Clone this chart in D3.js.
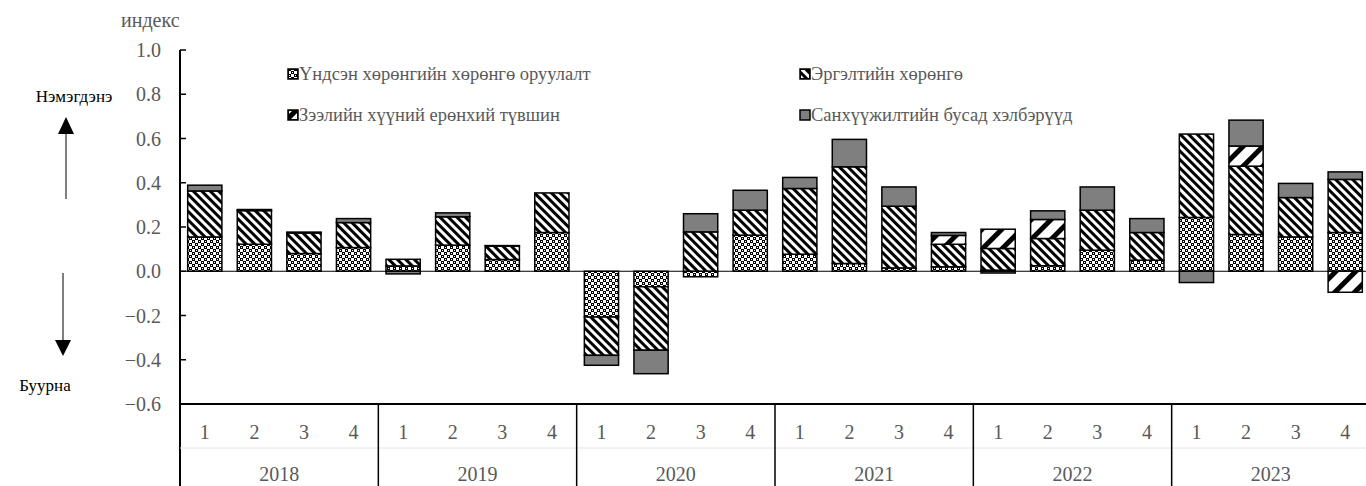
<!DOCTYPE html>
<html>
<head>
  <meta charset="utf-8">
  <title>stacked index chart</title>
  <script src="https://d3js.org/d3.v7.min.js"></script>
  <style>
    body { margin: 0; background: #fff; }
  </style>
</head>
<body>
  <div id="chart"></div>
  <script type="text/javascript">
    // data
    var years = ["2018", "2019", "2020", "2021", "2022", "2023"]
    var quarters = ["1", "2", "3", "4"]
    var seriesNames = ["Үндсэн хөрөнгийн хөрөнгө оруулалт", "Эргэлтийн хөрөнгө", "Зээлийн хүүний ерөнхий түвшин", "Санхүүжилтийн бусад хэлбэрүүд"]
    var fixedAssets = [0.155, 0.122, 0.08, 0.107, 0.024, 0.118, 0.053, 0.175, -0.207, -0.07, -0.025, 0.163, 0.077, 0.035, 0.015, 0.02, 0.005, 0.025, 0.095, 0.05, 0.243, 0.166, 0.155, 0.175]
    var workingCapital = [0.208, 0.152, 0.093, 0.113, 0.03, 0.128, 0.06, 0.179, -0.173, -0.287, 0.178, 0.113, 0.297, 0.437, 0.279, 0.102, 0.098, 0.123, 0.181, 0.125, 0.377, 0.309, 0.178, 0.24]
    var loanRate = [0, 0, 0, 0, 0, 0, 0, 0, 0, 0, 0, 0, 0, 0, 0, 0.04, 0.087, 0.086, 0, 0, 0, 0.091, 0, -0.095]
    var otherFinance = [0.026, 0.005, 0.004, 0.018, -0.012, 0.018, 0.003, 0, -0.045, -0.106, 0.082, 0.09, 0.05, 0.124, 0.087, 0.013, -0.008, 0.039, 0.105, 0.063, -0.051, 0.117, 0.064, 0.034]
    var yTicks = [-0.6, -0.4, -0.2, 0, 0.2, 0.4, 0.6, 0.8, 1.0]

    var W = 1366, H = 486
    var plotLeft = 180, plotRight = 1370, plotTop = 50, plotBottom = 404
    var serif = "'Liberation Serif', 'Times New Roman', 'DejaVu Serif', serif"
    var keys = ["fixed", "working", "loan", "other"]
    var fills = ["url(#pDots)", "url(#pDiag)", "url(#pLoan)", "#7f7f7f"]

    var rows = []
    years.forEach((yr, i) => {
      quarters.forEach((q, j) => {
        var k = i * 4 + j
        rows.push({ id: yr + "-" + q, year: yr, q: q, fixed: fixedAssets[k], working: workingCapital[k], loan: loanRate[k], other: otherFinance[k] })
      })
    })

    var svg = d3.select("#chart").append("svg").attr("width", W).attr("height", H)
      .attr("font-family", serif)
    var defs = svg.append("defs")

    // dotted grid
    var p1 = defs.append("pattern").attr("id", "pDots").attr("patternUnits", "userSpaceOnUse").attr("width", 6).attr("height", 6)
    p1.append("rect").attr("width", 6).attr("height", 6).attr("fill", "#fff")
    p1.append("rect").attr("x", 0).attr("y", 0).attr("width", 3).attr("height", 3).attr("fill", "#000")
    p1.append("rect").attr("x", 3).attr("y", 3).attr("width", 3).attr("height", 3).attr("fill", "#000")
    p1.append("rect").attr("x", 1).attr("y", 1).attr("width", 1).attr("height", 1).attr("fill", "#fff")
    p1.append("rect").attr("x", 4).attr("y", 4).attr("width", 1).attr("height", 1).attr("fill", "#fff")

    // wide downward diagonal
    var p2 = defs.append("pattern").attr("id", "pDiag").attr("patternUnits", "userSpaceOnUse").attr("width", 6).attr("height", 6).attr("patternTransform", "rotate(-45)")
    p2.append("rect").attr("width", 6).attr("height", 6).attr("fill", "#fff")
    p2.append("rect").attr("width", 3).attr("height", 6).attr("fill", "#000")

    // thick upward diagonal
    var p3 = defs.append("pattern").attr("id", "pLoan").attr("patternUnits", "userSpaceOnUse").attr("width", 14).attr("height", 14).attr("patternTransform", "rotate(45)")
    p3.append("rect").attr("width", 14).attr("height", 14).attr("fill", "#fff")
    p3.append("rect").attr("width", 5).attr("height", 14).attr("fill", "#000")

    var x = d3.scaleBand().domain(rows.map(d => d.id)).range([plotLeft, plotRight]).paddingInner(0.31).paddingOuter(0.155)
    var y = d3.scaleLinear().domain([-0.6, 1.0]).range([plotBottom, plotTop])
    var step = x.step()
    var gap = (step - x.bandwidth()) / 2

    var stack = d3.stack().keys(keys).offset(d3.stackOffsetDiverging)
    var series = stack(rows)

    // bars
    svg.append("g").selectAll("g")
      .data(series)
      .join("g")
      .attr("fill", (d, i) => fills[i])
      .selectAll("rect")
      .data(d => d.filter(s => s[1] - s[0] !== 0))
      .join("rect")
      .attr("x", d => x(d.data.id))
      .attr("y", d => y(Math.max(d[0], d[1])))
      .attr("width", x.bandwidth())
      .attr("height", d => Math.abs(y(d[0]) - y(d[1])))
      .attr("stroke", "#000")
      .attr("stroke-width", 1.5)

    // zero line
    svg.append("line").attr("x1", plotLeft).attr("x2", W).attr("y1", y(0)).attr("y2", y(0)).attr("stroke", "#000").attr("stroke-width", 1)

    // y axis
    var yAxis = svg.append("g")
    yAxis.append("line").attr("x1", plotLeft).attr("x2", plotLeft).attr("y1", plotTop).attr("y2", H).attr("stroke", "#000").attr("stroke-width", 2)
    yAxis.selectAll(".tick").data(yTicks).join("line").attr("class", "tick")
      .attr("x1", plotLeft).attr("x2", plotLeft + 6).attr("y1", d => y(d)).attr("y2", d => y(d)).attr("stroke", "#000").attr("stroke-width", 1.5)
    yAxis.selectAll("text").data(yTicks).join("text")
      .attr("x", 161).attr("y", d => y(d)).attr("dy", "0.35em")
      .attr("text-anchor", "end").attr("font-size", 20).attr("fill", "#595959")
      .text(d => d3.format(".1f")(d))
    svg.append("text").attr("x", 121).attr("y", 27).attr("font-size", 20).attr("fill", "#595959").text("индекс")

    // category axis (table style)
    svg.append("line").attr("x1", plotLeft).attr("x2", W).attr("y1", plotBottom).attr("y2", plotBottom).attr("stroke", "#000").attr("stroke-width", 2)
    svg.append("line").attr("x1", plotLeft).attr("x2", W).attr("y1", 448).attr("y2", 448).attr("stroke", "#e4e4e4").attr("stroke-width", 1)
    svg.append("g").selectAll("line").data(years.slice(1))
      .join("line")
      .attr("x1", d => x(d + "-1") - gap)
      .attr("x2", d => x(d + "-1") - gap)
      .attr("y1", plotBottom).attr("y2", H).attr("stroke", "#000").attr("stroke-width", 1.5)
    svg.append("g").selectAll("text").data(rows)
      .join("text")
      .attr("x", d => x(d.id) + x.bandwidth() / 2).attr("y", 432).attr("dy", "0.35em")
      .attr("text-anchor", "middle").attr("font-size", 20).attr("fill", "#595959")
      .text(d => d.q)
    svg.append("g").selectAll("text").data(years)
      .join("text")
      .attr("x", d => x(d + "-1") - gap + step * 2).attr("y", 474).attr("dy", "0.35em")
      .attr("text-anchor", "middle").attr("font-size", 20).attr("fill", "#595959")
      .text(d => d)

    // legend
    var legendPos = [[288, 74], [800, 74], [288, 115], [800, 115]]
    var legend = svg.append("g").selectAll("g").data(seriesNames).join("g")
      .attr("transform", (d, i) => "translate(" + legendPos[i][0] + "," + legendPos[i][1] + ")")
    legend.append("rect").attr("x", 0).attr("y", -5).attr("width", 10).attr("height", 10)
      .attr("fill", (d, i) => i == 3 ? "#7f7f7f" : "#000").attr("stroke", "#000").attr("stroke-width", 1.5)
    legend.filter((d, i) => i < 3).append("rect").attr("x", 1).attr("y", -4).attr("width", 8).attr("height", 8)
      .attr("fill", (d, i) => fills[i])
    legend.append("text").attr("x", 11).attr("y", 0).attr("dy", "0.35em").attr("font-size", 18.5).attr("fill", "#595959").text(d => d)

    // direction notes
    svg.append("line").attr("x1", 66).attr("x2", 66).attr("y1", 199).attr("y2", 130).attr("stroke", "#000").attr("stroke-width", 1)
    svg.append("path").attr("d", "M58,134L66,117L74,134Z").attr("fill", "#000")
    svg.append("line").attr("x1", 63).attr("x2", 63).attr("y1", 273).attr("y2", 345).attr("stroke", "#000").attr("stroke-width", 1)
    svg.append("path").attr("d", "M55,340L63,356L71,340Z").attr("fill", "#000")
    svg.append("text").attr("x", 74).attr("y", 96).attr("dy", "0.35em").attr("text-anchor", "middle").attr("font-size", 17).attr("fill", "#000").text("Нэмэгдэнэ")
    svg.append("text").attr("x", 45).attr("y", 385).attr("dy", "0.35em").attr("text-anchor", "middle").attr("font-size", 17).attr("fill", "#000").text("Буурна")
  </script>
</body>
</html>
